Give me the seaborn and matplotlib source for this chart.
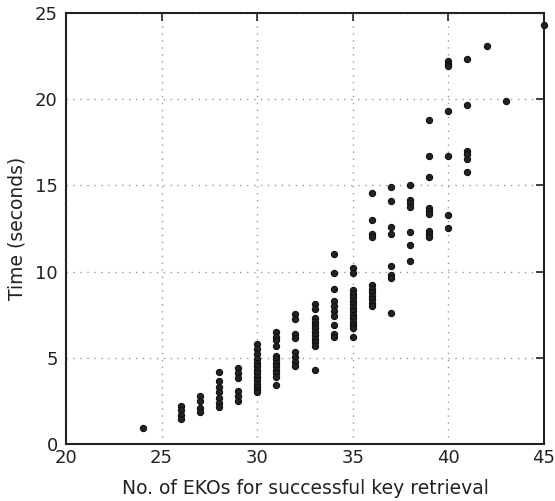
import matplotlib
matplotlib.use("Agg")
import matplotlib.pyplot as plt
import seaborn as sns
import pandas as pd

# Measured retrieval times, grouped by the number of EKOs needed
eko_counts = [24, 26, 27, 28, 29, 30, 31, 32, 33, 34, 35, 36, 37, 38, 39, 40, 41, 42, 43, 45]
times_by_count = [
    [0.9],
    [2.2, 1.95, 1.7, 1.45],
    [2.75, 2.5, 2.1, 1.85],
    [4.2, 3.65, 3.3, 3.0, 2.65, 2.4, 2.15],
    [4.4, 4.1, 3.85, 3.05, 2.8, 2.5],
    [5.8, 5.5, 5.2, 4.9, 4.7, 4.5, 4.3, 4.1, 3.9, 3.7, 3.5, 3.3, 3.1, 3.0],
    [6.5, 6.2, 6.0, 5.7, 5.1, 4.9, 4.7, 4.5, 4.3, 4.1, 3.9, 3.4],
    [7.55, 7.25, 6.4, 6.15, 5.35, 5.05, 4.75, 4.5],
    [8.1, 7.8, 7.3, 7.1, 6.9, 6.7, 6.5, 6.3, 6.1, 5.9, 5.7, 4.3],
    [11.0, 9.9, 9.0, 8.3, 8.0, 7.7, 7.4, 6.9, 6.4, 6.2],
    [10.2, 9.9, 8.9, 8.7, 8.5, 8.3, 8.1, 7.9, 7.7, 7.5, 7.3, 7.1, 6.9, 6.7, 6.2],
    [14.55, 13.0, 12.2, 12.0, 9.2, 9.0, 8.8, 8.6, 8.4, 8.2, 8.0],
    [14.9, 14.1, 12.6, 12.2, 10.3, 9.8, 9.6, 7.6],
    [15.0, 14.15, 13.95, 13.75, 12.3, 11.55, 10.6],
    [18.8, 16.7, 15.5, 13.7, 13.5, 13.35, 12.35, 12.15, 12.0],
    [22.2, 22.05, 21.9, 19.3, 16.7, 13.3, 12.55],
    [22.35, 19.65, 17.0, 16.8, 16.55, 15.8],
    [23.1],
    [19.9],
    [24.3],
]

x_ticks = [20, 25, 30, 35, 40, 45]
y_ticks = [0, 5, 10, 15, 20, 25]

rows = [(n, t) for n, ts in zip(eko_counts, times_by_count) for t in ts]
df = pd.DataFrame(rows, columns=["ekos", "seconds"])

sns.set_style("white")
plt.rcParams["font.family"] = ["DejaVu Sans"]

fig = plt.figure(figsize=(5.55, 5.01), dpi=100)
ax = fig.add_axes([0.119, 0.114, 0.861, 0.860])

sns.scatterplot(data=df, x="ekos", y="seconds", ax=ax, color="#222222",
                edgecolor="#111111", linewidth=0.8, s=20, clip_on=False, zorder=3)

ax.set_xlim(20, 45)
ax.set_ylim(0, 25)
ax.set_xticks(x_ticks)
ax.set_yticks(y_ticks)
ax.grid(True, linestyle=(0, (1, 4)), color="#999999", linewidth=1.0)
ax.set_axisbelow(True)

ax.tick_params(direction="in", length=6, width=1.2, top=True, right=True,
               labelsize=13, colors="#222222")
ax.tick_params(axis="x", pad=4)
ax.tick_params(axis="y", pad=6)
for sp in ax.spines.values():
    sp.set_visible(True)
    sp.set_color("#222222")
    sp.set_linewidth(1.5)

ax.set_xlabel("No. of EKOs for successful key retrieval", fontsize=13.5, color="#222222", labelpad=8)
ax.set_ylabel("Time (seconds)", fontsize=13.5, color="#222222", labelpad=6)

fig.savefig("out.png", dpi=100)
